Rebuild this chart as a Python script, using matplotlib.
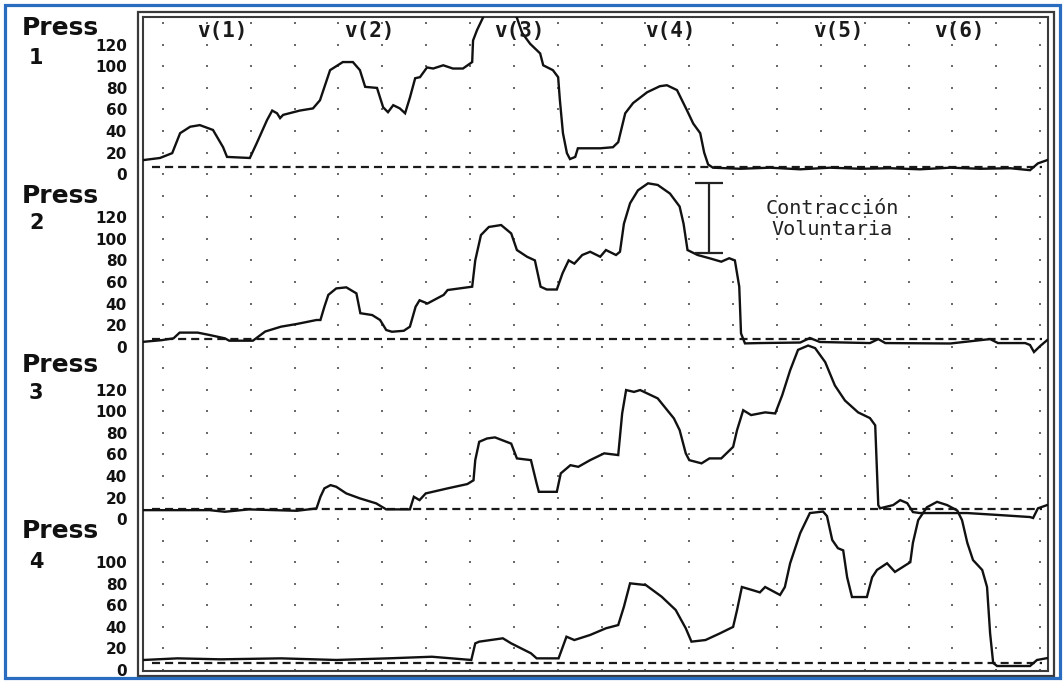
import matplotlib
matplotlib.use("Agg")
import matplotlib.pyplot as plt
from matplotlib.patches import Rectangle
import numpy as np

plt.rcParams['lines.scale_dashes'] = False

# ---------------- data (time in grid units, pressure in mmHg) ----------------
t1 = [-0.46, -0.07, 0.21, 0.39, 0.62, 0.84, 1.14, 1.37, 1.46, 1.98, 2.14, 2.37, 2.49, 2.60, 2.67,
      2.74, 3.12, 3.42, 3.58, 3.81, 4.10, 4.33, 4.49, 4.61, 4.88, 5.02, 5.13, 5.25, 5.40, 5.52,
      5.63, 5.75, 5.86, 6.02, 6.16, 6.39, 6.61, 6.84, 7.05, 7.07, 7.16, 7.27, 7.34, 7.50, 7.80,
      7.98, 8.07, 8.19, 8.37, 8.60, 8.67, 8.89, 9.01, 9.05, 9.12, 9.21, 9.28, 9.40, 9.46, 9.97,
      10.26, 10.38, 10.54, 10.72, 11.04, 11.33, 11.49, 11.72, 11.95, 12.09, 12.25, 12.34, 12.43,
      12.54, 13.16, 13.84, 14.53, 15.21, 15.90, 16.58, 17.26, 17.95, 18.63, 19.32, 19.77, 19.95, 20.16]
p1 = [13, 15, 19.5, 38, 44, 45.5, 41, 25, 16, 15, 29, 50, 59, 56.5, 52,
      55, 59, 61, 68.6, 96.5, 104, 104, 96.5, 81, 80, 62, 57.5, 64, 61, 56.5,
      71, 89, 90, 99, 98, 101, 98, 98, 104, 124, 133.6, 143, 149, 155, 158,
      152, 145, 131, 121, 112, 101, 96.5, 90, 68.6, 38, 19.5, 14, 16, 24, 24,
      25, 29.7, 56.5, 66, 76, 81.6, 82.5, 78, 59, 47, 38, 20, 9,
      6, 5, 6, 4.5, 6, 5, 5.5, 4.5, 6, 5, 5.5, 3.7, 10, 13]

t2 = [-0.44, -0.03, 0.24, 0.38, 0.79, 1.06, 1.41, 1.51, 2.05, 2.33, 2.69, 3.05, 3.50, 3.59, 3.68,
      3.77, 3.95, 4.18, 4.41, 4.50, 4.77, 4.95, 5.09, 5.22, 5.49, 5.63, 5.76, 5.85, 6.03, 6.40,
      6.49, 6.94, 7.05, 7.12, 7.25, 7.43, 7.71, 7.94, 8.07, 8.30, 8.48, 8.61, 8.75, 8.98, 9.11,
      9.25, 9.38, 9.56, 9.74, 9.97, 10.10, 10.33, 10.42, 10.51, 10.65, 10.83, 11.06, 11.28, 11.56,
      11.78, 11.87, 11.96, 12.19, 12.46, 12.73, 12.91, 13.04, 13.14, 13.18, 13.27, 13.61, 14.53,
      14.75, 14.98, 16.12, 16.31, 16.47, 17.95, 18.86, 19.04, 19.66, 19.77, 19.86, 20.00, 20.16]
p2 = [4.5, 6, 7.7, 13, 13, 10.8, 7.7, 5.5, 5.5, 14, 18.5, 21, 24.7, 24.7, 37,
      48, 54, 55, 49.4, 31, 29.3, 24.7, 15.4, 13.8, 14.7, 18.5, 37, 43, 40, 48,
      52.5, 55, 55.6, 80, 103.5, 111, 112.8, 105, 89.6, 83.4, 80, 55.6, 53, 53, 68,
      80, 77, 85, 88, 83.4, 89.6, 85, 88, 114, 133, 145, 151.5, 150, 142,
      130, 114, 89.6, 85, 82, 78.8, 82, 80, 55.6, 12.3, 3, 3.3, 3.8,
      8, 4.3, 3.3, 7, 3.3, 2.9, 7, 3.3, 3.3, 1.5, -5, 0.5, 6]

t3 = [-0.44, 1.06, 1.41, 1.96, 3.05, 3.50, 3.59, 3.68, 3.82, 3.95, 4.18, 4.49, 4.86, 5.09, 5.63,
      5.72, 5.85, 5.99, 6.49, 6.94, 7.08, 7.12, 7.21, 7.39, 7.57, 7.94, 8.07, 8.39, 8.52, 8.57,
      8.98, 9.07, 9.29, 9.47, 9.74, 10.06, 10.38, 10.47, 10.56, 10.74, 10.88, 11.28, 11.65, 11.78,
      11.92, 12.00, 12.28, 12.46, 12.73, 13.00, 13.09, 13.23, 13.41, 13.73, 13.96, 14.12, 14.30,
      14.48, 14.71, 14.87, 15.10, 15.32, 15.55, 15.85, 16.12, 16.24, 16.31, 16.35, 16.65, 16.81,
      16.97, 17.10, 17.26, 18.34, 19.09, 19.77, 19.84, 19.95, 20.16]
p3 = [8.3, 8.3, 6.8, 9, 7.7, 9.9, 20.7, 28.5, 31.5, 30, 23.8, 19.2, 14.6, 9, 9,
      20.7, 17.6, 23.8, 28.5, 32.5, 36, 54.7, 71.7, 74.8, 75.8, 70, 56.3, 54.7, 33, 25.3,
      25.3, 42.4, 50, 48.5, 54.7, 61, 59.4, 98, 119.7, 118, 119.7, 112, 93.4, 82.6,
      61, 54.7, 51.7, 56.3, 56.3, 67, 82.6, 101, 96.5, 99, 98, 115, 138,
      157, 161, 158.6, 145.6, 124, 110, 99, 93.7, 87, 13, 10, 13, 17.6,
      14.8, 6.5, 5.6, 5.6, 3.7, 1.9, 1, 10, 13]

t4 = [-0.44, 0.33, 1.32, 2.69, 3.95, 5.13, 6.13, 7.03, 7.12, 7.21, 7.75, 7.94, 8.39, 8.52, 9.02,
      9.20, 9.38, 9.74, 10.10, 10.38, 10.51, 10.65, 11.01, 11.37, 11.69, 11.92, 12.05, 12.37,
      12.70, 13.00, 13.09, 13.20, 13.45, 13.61, 13.73, 14.07, 14.18, 14.30, 14.53, 14.75, 15.05,
      15.14, 15.26, 15.39, 15.51, 15.60, 15.71, 16.05, 16.17, 16.28, 16.51, 16.69, 17.04, 17.10,
      17.22, 17.42, 17.65, 17.88, 18.11, 18.22, 18.34, 18.47, 18.68, 18.79, 18.86, 18.93, 19.02,
      19.77, 19.93, 20.16]
p4 = [9.3, 10.8, 9.9, 10.8, 9.3, 10.8, 12.3, 9.3, 24.7, 26.3, 29.4, 24.7, 15.5, 10.8, 10.8,
      30.9, 27.8, 32.5, 38.7, 41.7, 58.7, 80.4, 78.8, 68, 55.7, 38.7, 26.3, 27.8,
      34, 40, 55.7, 77, 74, 72, 77, 69.6, 77, 99, 127, 145.6, 147,
      142.8, 120.6, 113, 111, 86, 67.7, 67.7, 86, 92.8, 99, 91, 100, 118,
      139, 151, 156, 153, 148, 139, 118, 102, 92.8, 77, 34, 6.5, 3.7,
      3.7, 9.3, 11]

channels = ["1", "2", "3", "4"]
offsets = [460, 300, 140, 0]            # vertical offset of each channel
baselines = [7, 7, 9.3, 6.8]            # dashed reference level (mmHg)
tick_values = [[0, 20, 40, 60, 80, 100, 120],
               [0, 20, 40, 60, 80, 100, 120],
               [0, 20, 40, 60, 80, 100, 120],
               [0, 20, 40, 60, 80, 100]]
swallow_labels = ["v(1)", "v(2)", "v(3)", "v(4)", "v(5)", "v(6)"]
swallow_t = [1.35, 4.70, 8.12, 11.56, 15.40, 18.17]
bracket_t = 12.45
bracket_range = [87, 152]               # channel 2, voluntary contraction
grid_cols = np.arange(0, 21, 1)
grid_rows = np.arange(0, 601, 20)

traces_t = [t1, t2, t3, t4]
traces_p = [p1, p2, p3, p4]

# ---------------- figure ----------------
W, H = 1064, 681
fig = plt.figure(figsize=(W / 100, H / 100), dpi=100)
fig.patch.set_facecolor("white")

ax = fig.add_axes([143 / W, 1 - 671 / H, (1048 - 143) / W, (671 - 17) / H])
ax.set_xlim(-0.456, 20.18)
ax.set_ylim(-0.93, 605.8)

# dot grid
gx, gy = np.meshgrid(grid_cols, grid_rows)
ax.scatter(gx.ravel(), gy.ravel(), s=3.5, marker='s', color='#6a6a6a', linewidths=0, zorder=1)

# dashed baselines
for off, b in zip(offsets, baselines):
    ax.plot([-0.25, 20.05], [off + b, off + b], color='#1a1a1a', lw=1.6,
            dashes=(5.8, 3.6), zorder=2)

# traces
for tt, pp, off in zip(traces_t, traces_p, offsets):
    ax.plot(tt, np.array(pp) + off, color='#111111', lw=1.7, zorder=3,
            solid_joinstyle='miter')

# voluntary contraction bracket (channel 2)
ax.vlines(bracket_t, bracket_range[0] + offsets[1], bracket_range[1] + offsets[1],
          color='#222222', lw=1.6, zorder=4)
ax.hlines([bracket_range[0] + offsets[1], bracket_range[1] + offsets[1]],
          bracket_t - 0.32, bracket_t + 0.32, color='#222222', lw=1.6, zorder=4)
ax.text(15.26, 428.5, "Contracción", ha='center', va='center', fontsize=14.5,
        family='DejaVu Sans Mono', color='#222222', zorder=5)
ax.text(15.26, 409, "Voluntaria", ha='center', va='center', fontsize=14.5,
        family='DejaVu Sans Mono', color='#222222', zorder=5)

# swallow labels
for lab, tx in zip(swallow_labels, swallow_t):
    ax.text(tx, 593, lab, ha='center', va='center', fontsize=15, fontweight='bold',
            family='DejaVu Sans Mono', color='#1a1a1a', zorder=5)

# y tick labels
yt, yl = [], []
for off, tv in zip(offsets, tick_values):
    for v in tv:
        yt.append(off + v)
        yl.append(str(v))
ax.set_yticks(yt)
ax.set_yticklabels(yl, fontsize=11, fontweight='bold', color='#111111')
ax.tick_params(axis='y', length=0, pad=11.5)
ax.set_xticks([])

for sp in ax.spines.values():
    sp.set_linewidth(1.5)
    sp.set_color('#3a3a3a')

# outer frame (double border)
fig.add_artist(Rectangle((138 / W, 1 - 676 / H), (1054 - 138) / W, (676 - 12) / H,
                         transform=fig.transFigure, fill=False, lw=1.6, ec='#3a3a3a'))

# channel labels
press_y = [28, 196, 365, 531]
num_y = [58, 223, 393, 562]
for ch, py, ny in zip(channels, press_y, num_y):
    fig.text(22 / W, 1 - py / H, "Press", ha='left', va='center', fontsize=18,
             fontweight='bold', color='#111111')
    fig.text(29 / W, 1 - ny / H, ch, ha='left', va='center', fontsize=15,
             fontweight='bold', color='#111111')

# blue outer border
fig.add_artist(Rectangle((5 / W, 1 - 678 / H), (1060 - 5) / W, (678 - 5) / H,
                         transform=fig.transFigure, fill=False, lw=2.3, ec='#2a6cbf'))

fig.savefig("out.png", dpi=100, facecolor='white')
